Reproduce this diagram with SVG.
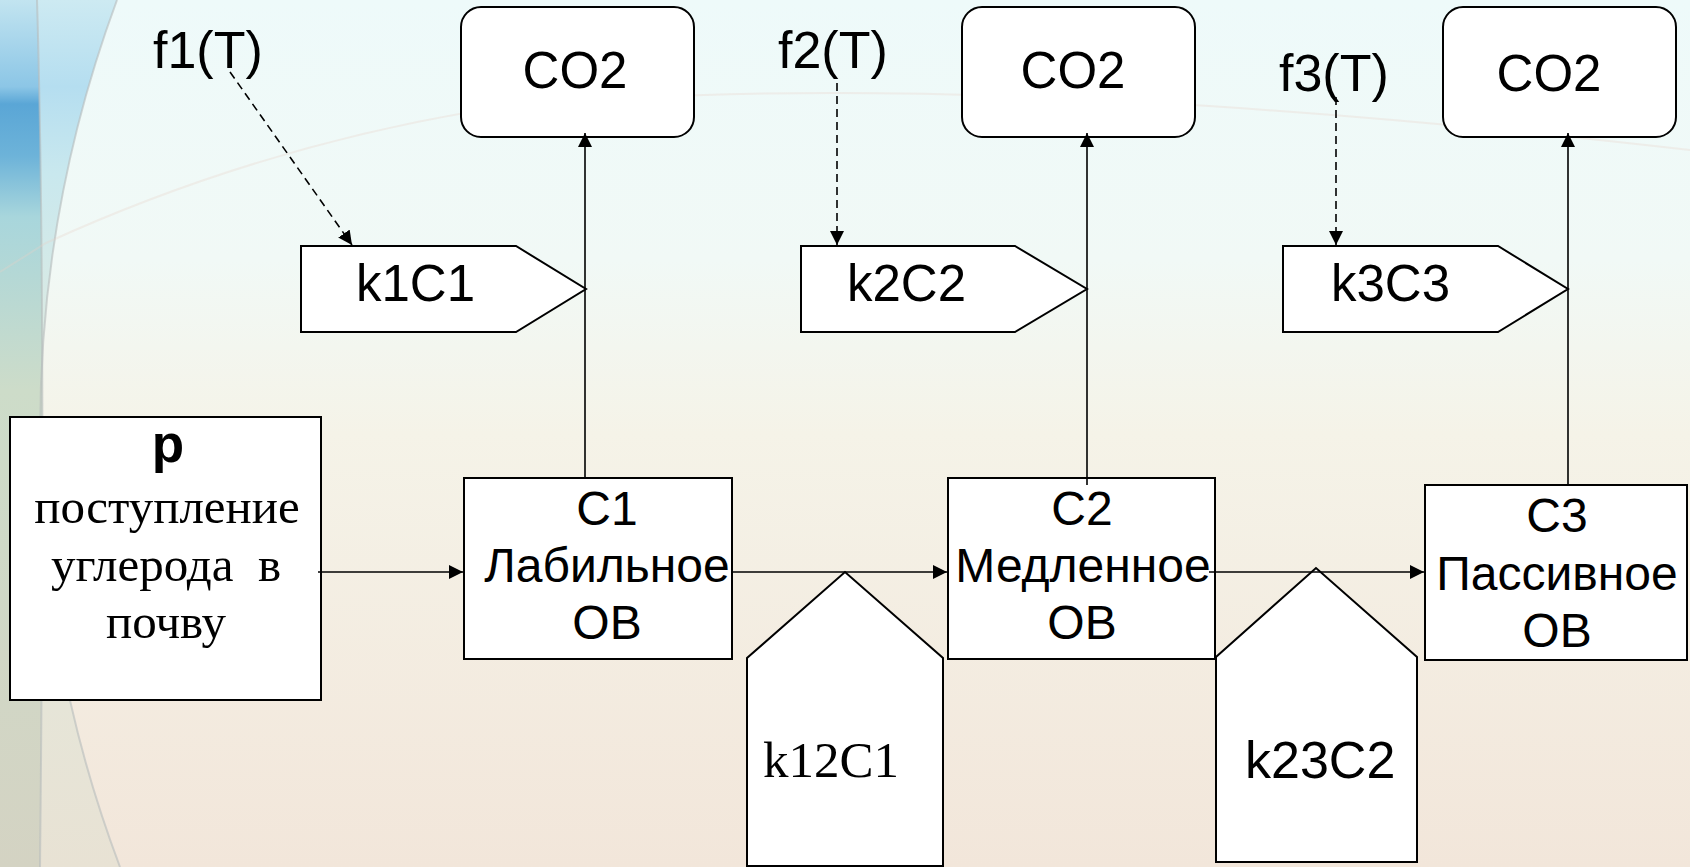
<svg xmlns="http://www.w3.org/2000/svg" width="1690" height="867" viewBox="0 0 1690 867">
<defs>
<linearGradient id="bg" x1="0" y1="0" x2="0" y2="1">
<stop offset="0" stop-color="#eefafa"/>
<stop offset="0.3" stop-color="#f1f9f6"/>
<stop offset="0.5" stop-color="#f5f3e8"/>
<stop offset="1" stop-color="#f2e6da"/>
</linearGradient>
<linearGradient id="leftA" x1="0" y1="0" x2="0" y2="1">
<stop offset="0" stop-color="#cdeaf2"/>
<stop offset="0.1" stop-color="#b5def0"/>
<stop offset="0.2" stop-color="#c9e8ee"/>
<stop offset="0.45" stop-color="#e2ebdf"/>
<stop offset="1" stop-color="#e8e2d4"/>
</linearGradient>
<linearGradient id="leftB" x1="0" y1="0" x2="0" y2="1">
<stop offset="0" stop-color="#c2e4f0"/>
<stop offset="0.1" stop-color="#8cc6e6"/>
<stop offset="0.12" stop-color="#5aa6d6"/>
<stop offset="0.18" stop-color="#6db3d9"/>
<stop offset="0.25" stop-color="#a8d6dc"/>
<stop offset="0.45" stop-color="#cddcc9"/>
<stop offset="1" stop-color="#d4d3c3"/>
</linearGradient>
<marker id="ah" markerUnits="userSpaceOnUse" markerWidth="15" markerHeight="14" refX="14" refY="7" orient="auto">
<path d="M0,0 L14,7 L0,14 Z" fill="#000"/>
</marker>
<style>
.box{fill:#fff;stroke:#000;stroke-width:2}
.ln{fill:none;stroke:#000;stroke-width:1.6}
.dash{fill:none;stroke:#000;stroke-width:1.6;stroke-dasharray:8 5}
.a{font-family:"Liberation Sans",Arial,sans-serif;fill:#000}
.t{font-family:"Liberation Serif","Times New Roman",serif;fill:#000}
.deco{fill:none;stroke:#b8bcbc;stroke-width:2;opacity:0.6}
</style>
</defs>
<g id="background">
<rect x="0" y="0" width="1690" height="867" fill="url(#bg)"/>
<path d="M0,0 H117 A1239,1239 0 0,0 120,867 H0 Z" fill="url(#leftA)"/>
<path d="M0,0 H37 Q46,300 40,867 H0 Z" fill="url(#leftB)"/>
<path class="deco" d="M117,0 A1239,1239 0 0,0 120,867"/>
<path class="deco" d="M37,0 Q46,300 40,867"/>
<path d="M0,272 L46,243 Q250,150 470,112 Q900,60 1690,150" fill="none" stroke="#e8cfc6" stroke-width="2" opacity="0.3"/>
</g>
<g id="co2-1"><rect class="box" x="461" y="7" width="233" height="130" rx="20"/><text class="a" x="575" y="88" font-size="51" text-anchor="middle">CO2</text></g>
<g id="co2-2"><rect class="box" x="962" y="7" width="233" height="130" rx="20"/><text class="a" x="1073" y="88" font-size="51" text-anchor="middle">CO2</text></g>
<g id="co2-3"><rect class="box" x="1443" y="7" width="233" height="130" rx="20"/><text class="a" x="1549" y="91" font-size="51" text-anchor="middle">CO2</text></g>
<g id="f1"><text class="a" x="153" y="68" font-size="52">f1(T)</text></g>
<g id="f2"><text class="a" x="778" y="68" font-size="52">f2(T)</text></g>
<g id="f3"><text class="a" x="1279" y="91" font-size="52">f3(T)</text></g>
<g id="k1C1"><path class="box" d="M301,246 H516 L586,289 L516,332 H301 Z"/><text class="a" x="356" y="301" font-size="51">k1C1</text></g>
<g id="k2C2"><path class="box" d="M801,246 H1015 L1087,289 L1015,332 H801 Z"/><text class="a" x="847" y="301" font-size="51">k2C2</text></g>
<g id="k3C3"><path class="box" d="M1283,246 H1498 L1568,289 L1498,332 H1283 Z"/><text class="a" x="1331" y="301" font-size="51">k3C3</text></g>
<g id="p">
<rect class="box" x="10" y="417" width="311" height="283"/>
<text class="a" x="168" y="462" font-size="53" font-weight="bold" text-anchor="middle">p</text>
<text class="t" font-size="49" text-anchor="middle"><tspan x="167" y="523">поступление</tspan><tspan x="166" y="581" xml:space="preserve">углерода  в</tspan><tspan x="166" y="638">почву</tspan></text>
</g>
<g id="C1">
<rect class="box" x="464" y="478" width="268" height="181"/>
<text class="a" font-size="48" text-anchor="middle"><tspan x="607" y="525">С1</tspan><tspan x="607" y="582">Лабильное</tspan><tspan x="607" y="639">ОВ</tspan></text>
</g>
<g id="C2">
<rect class="box" x="948" y="478" width="267" height="181"/>
<text class="a" font-size="48" text-anchor="middle"><tspan x="1082" y="525">С2</tspan><tspan x="1083" y="582">Медленное</tspan><tspan x="1082" y="639">ОВ</tspan></text>
</g>
<g id="C3">
<rect class="box" x="1425" y="485" width="262" height="175"/>
<text class="a" font-size="48" text-anchor="middle"><tspan x="1557" y="532">С3</tspan><tspan x="1557" y="590">Пассивное</tspan><tspan x="1557" y="647">ОВ</tspan></text>
</g>
<g id="k12C1"><path class="box" d="M747,866 V658 L845,572 L943,658 V866 Z"/><text class="t" x="763" y="777" font-size="51">k12C1</text></g>
<g id="k23C2"><path class="box" d="M1216,862 V657 L1316,568 L1417,657 V862 Z"/><text class="a" x="1245" y="778" font-size="52">k23C2</text></g>
<g id="connectors">
<line class="dash" x1="230" y1="72" x2="352" y2="245" marker-end="url(#ah)"/>
<line class="dash" x1="837" y1="83" x2="837" y2="245" marker-end="url(#ah)"/>
<line class="dash" x1="1336" y1="97" x2="1336" y2="245" marker-end="url(#ah)"/>
<line class="ln" x1="585" y1="478" x2="585" y2="133" marker-end="url(#ah)"/>
<line class="ln" x1="1087" y1="485" x2="1087" y2="133" marker-end="url(#ah)"/>
<line class="ln" x1="1568" y1="485" x2="1568" y2="133" marker-end="url(#ah)"/>
<line class="ln" x1="318" y1="572" x2="463" y2="572" marker-end="url(#ah)"/>
<line class="ln" x1="732" y1="572" x2="947" y2="572" marker-end="url(#ah)"/>
<line class="ln" x1="1209" y1="572" x2="1424" y2="572" marker-end="url(#ah)"/>
</g>
</svg>
